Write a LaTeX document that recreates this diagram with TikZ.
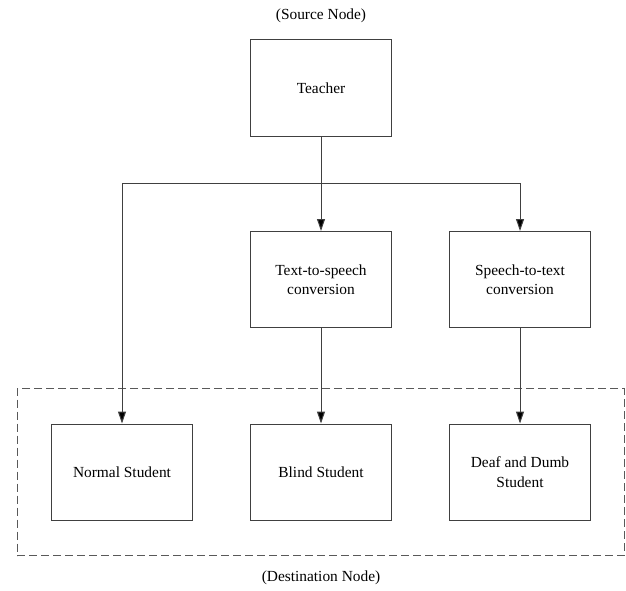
\documentclass[tikz,border=0pt]{standalone}
\usepackage{fontspec}
\setmainfont{Liberation Serif}
\usetikzlibrary{arrows.meta}
\begin{document}
\begin{tikzpicture}[x=1pt,y=-1pt,
  line width=1pt,
  box/.style={draw=black!75, fill=white, minimum width=141pt, minimum height=96pt, align=center, inner sep=2pt, font=\fontsize{15.4}{19.3}\selectfont},
  lbl/.style={font=\fontsize{15.4}{19}\selectfont, inner sep=0pt},
  conn/.style={draw=black!75},
  arr/.style={conn, -{Triangle[length=12pt,width=8pt,fill=black]}}
]
\useasboundingbox (0,0) rectangle (626,591);
\node[draw=black!65, dashed, dash pattern=on 8pt off 4pt, minimum width=607pt, minimum height=167pt, inner sep=0pt] (dest) at (320.5,472) {};
\node[box] (teacher) at (321,88) {Teacher};
\node[box] (tts) at (321,279.5) {Text-to-speech\\conversion};
\node[box] (stt) at (520,279.5) {Speech-to-text\\conversion};
\node[box] (normal) at (122,472) {Normal Student};
\node[box] (blind) at (321,472) {Blind Student};
\node[box] (deaf) at (520,472) {Deaf and Dumb\\Student};
\node[lbl] (src) at (321,16) {(Source Node)};
\node[lbl] (dst) at (321,578) {(Destination Node)};
\coordinate (split) at (321,183);
\coordinate (leftc) at (122,183);
\coordinate (rightc) at (520,183);
\draw[conn] (teacher.south) -- (split);
\draw[conn] (leftc) -- (rightc);
\draw[arr] (split) -- (tts.north);
\draw[arr] (rightc) -- (stt.north);
\draw[arr] (leftc) -- (normal.north);
\draw[arr] (tts.south) -- (blind.north);
\draw[arr] (stt.south) -- (deaf.north);
\end{tikzpicture}
\end{document}
